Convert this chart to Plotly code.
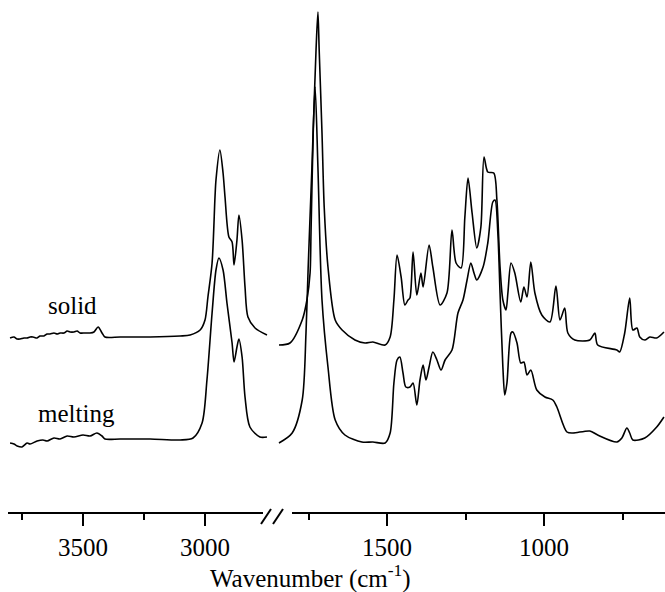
import plotly.graph_objects as go

W, H = 665, 592

# ---------------- data ----------------
# high-wavenumber segment (left part of the broken axis)
solid_hi_wn = [3799, 3783, 3770, 3758, 3742, 3729, 3717, 3705, 3688, 3676, 3660, 3647,
               3635, 3619, 3606, 3594, 3578, 3565, 3553, 3537, 3524, 3512, 3492, 3471,
               3455, 3438, 3422, 3410, 3348, 3225, 3102, 3061, 3020, 3000, 2988, 2971,
               2959, 2955, 2939, 2926, 2918, 2902, 2889, 2881, 2869, 2861, 2848, 2836,
               2824, 2795, 2746]
solid_hi_abs = [-0.01, 0.00, -0.02, -0.02, -0.01, -0.01, 0.00, 0.00, -0.01, 0.01, 0.01, 0.03,
                0.03, 0.04, 0.03, 0.04, 0.04, 0.06, 0.05, 0.05, 0.06, 0.04, 0.04, 0.04,
                0.05, 0.10, 0.04, 0.00, 0.00, 0.00, 0.01, 0.02, 0.07, 0.17, 0.40, 0.74,
                1.40, 1.57, 1.87, 1.64, 1.40, 1.00, 0.95, 0.72, 0.97, 1.22, 0.97, 0.50,
                0.20, 0.09, 0.02]

melt_hi_wn = [3799, 3783, 3770, 3750, 3729, 3717, 3688, 3664, 3647, 3619, 3594, 3565,
              3537, 3500, 3471, 3443, 3422, 3410, 3348, 3225, 3102, 3049, 3012, 2992,
              2971, 2955, 2943, 2926, 2910, 2889, 2881, 2869, 2861, 2848, 2836, 2816,
              2775, 2746]
melt_hi_abs = [-0.05, -0.06, -0.08, -0.09, -0.05, -0.06, -0.03, -0.02, -0.03, 0.00, -0.01, 0.02,
               0.01, 0.03, 0.02, 0.05, 0.02, -0.01, -0.01, -0.01, -0.02, 0.00, 0.15, 0.58,
               1.25, 1.68, 1.80, 1.68, 1.35, 0.95, 0.76, 0.91, 0.99, 0.81, 0.41, 0.11,
               0.01, 0.01]

# low-wavenumber segment (right part of the broken axis)
solid_lo_wn = [1844, 1809, 1770, 1755, 1745, 1742, 1735, 1726, 1720, 1716, 1707, 1700,
               1688, 1665, 1643, 1602, 1570, 1545, 1506, 1490, 1478, 1468, 1455, 1443,
               1433, 1427, 1417, 1405, 1392, 1385, 1366, 1354, 1331, 1309, 1293, 1280,
               1264, 1252, 1242, 1229, 1214, 1201, 1191, 1179, 1160, 1150, 1140, 1131,
               1121, 1115, 1105, 1093, 1074, 1064, 1054, 1042, 1029, 1007, 981, 962,
               949, 934, 924, 902, 854, 838, 829, 768, 759, 743, 727, 717, 704, 695,
               679, 663, 641, 618]
solid_lo_abs = [-0.08, -0.06, 0.17, 0.37, 0.64, 1.04, 2.04, 2.87, 3.25, 2.87, 2.04, 1.30,
                0.70, 0.17, 0.07, -0.03, -0.06, -0.05, -0.08, 0.00, 0.37, 0.82, 0.60, 0.32,
                0.37, 0.39, 0.85, 0.42, 0.64, 0.50, 0.92, 0.70, 0.32, 0.44, 1.07, 0.74,
                0.69, 1.20, 1.59, 1.24, 0.89, 1.10, 1.80, 1.65, 1.64, 1.37, 0.70, 0.37,
                0.27, 0.44, 0.74, 0.64, 0.35, 0.50, 0.40, 0.75, 0.44, 0.22, 0.15, 0.51,
                0.17, 0.29, 0.04, -0.03, -0.03, 0.04, -0.08, -0.13, -0.15, 0.04, 0.39, 0.07,
                0.09, 0.00, -0.03, 0.00, -0.01, 0.05]

melt_lo_wn = [1844, 1802, 1770, 1758, 1751, 1739, 1729, 1720, 1707, 1688, 1665, 1634,
              1580, 1545, 1506, 1490, 1478, 1468, 1459, 1449, 1440, 1427, 1417, 1405,
              1395, 1385, 1376, 1366, 1354, 1341, 1328, 1315, 1293, 1274, 1258, 1245,
              1233, 1223, 1214, 1194, 1179, 1163, 1156, 1147, 1140, 1131, 1125, 1118,
              1105, 1099, 1086, 1074, 1064, 1054, 1042, 1023, 997, 972, 959, 927,
              908, 854, 829, 768, 752, 736, 727, 717, 679, 641, 618]
melt_lo_abs = [-0.05, 0.05, 0.38, 1.05, 1.71, 2.71, 3.51, 2.71, 1.38, 0.71, 0.18, 0.03,
               -0.04, -0.04, -0.05, 0.05, 0.55, 0.78, 0.81, 0.65, 0.51, 0.51, 0.55, 0.33,
               0.58, 0.73, 0.58, 0.71, 0.86, 0.78, 0.68, 0.78, 0.88, 1.25, 1.38, 1.58,
               1.75, 1.65, 1.58, 1.71, 1.95, 2.36, 2.38, 2.05, 1.45, 0.71, 0.43, 0.55,
               1.05, 1.06, 0.95, 0.75, 0.76, 0.63, 0.68, 0.48, 0.41, 0.38, 0.31, 0.06,
               0.05, 0.07, 0.03, -0.04, 0.00, 0.10, 0.05, -0.02, 0.00, 0.11, 0.21]

SOLID_OFFSET = 1.01
series_labels = ["solid", "melting"]

left_major = [3500, 3000]
left_minor = [3750, 3250]
right_major = [1500, 1000]
right_minor = [1750, 1250, 750]

# ---------------- layout geometry ----------------
LEFT_SCALE = (83, 3500, 205, 3000)     # (px, wn, px, wn)
RIGHT_SCALE = (387, 1500, 544, 1000)


def wn_at(px, pa, wa, pb, wb):
    return wa + (px - pa) * (wb - wa) / (pb - pa)


AXIS_Y = 513
LEFT_AX = (8, 263)
RIGHT_AX = (292, 665)
FONT = "Liberation Serif"

line_style = dict(color="black", width=1.6, shape="spline", smoothing=0.8)

fig = go.Figure()
fig.add_trace(go.Scatter(x=solid_hi_wn, y=[v + SOLID_OFFSET for v in solid_hi_abs],
                         xaxis="x", yaxis="y", mode="lines", line=line_style,
                         name="solid", showlegend=False))
fig.add_trace(go.Scatter(x=melt_hi_wn, y=melt_hi_abs, xaxis="x", yaxis="y",
                         mode="lines", line=line_style, name="melting", showlegend=False))
fig.add_trace(go.Scatter(x=solid_lo_wn, y=[v + SOLID_OFFSET for v in solid_lo_abs],
                         xaxis="x2", yaxis="y", mode="lines", line=line_style,
                         name="solid", showlegend=False))
fig.add_trace(go.Scatter(x=melt_lo_wn, y=melt_lo_abs, xaxis="x2", yaxis="y",
                         mode="lines", line=line_style, name="melting", showlegend=False))
# carriers for the visible (broken) axis segments
fig.add_trace(go.Scatter(x=[left_major[0]], y=[-100], xaxis="x3", yaxis="y", mode="lines",
                         line=dict(width=0), showlegend=False, hoverinfo="skip"))
fig.add_trace(go.Scatter(x=[right_major[0]], y=[-100], xaxis="x4", yaxis="y", mode="lines",
                         line=dict(width=0), showlegend=False, hoverinfo="skip"))

vis_axis = dict(anchor="free", position=1 - AXIS_Y / H, showline=True, linecolor="black",
                linewidth=2, ticks="outside", ticklen=12, tickwidth=1.6, tickcolor="black",
                showgrid=False, zeroline=False, tickmode="array",
                tickfont=dict(family=FONT, size=25, color="black"))

fig.update_layout(
    width=W, height=H, margin=dict(l=0, r=0, t=0, b=0, pad=0),
    paper_bgcolor="white", plot_bgcolor="rgba(0,0,0,0)",
    xaxis=dict(domain=[0, 1], range=[wn_at(0, *LEFT_SCALE), wn_at(W, *LEFT_SCALE)],
               visible=False, anchor="y"),
    xaxis2=dict(domain=[0, 1], range=[wn_at(0, *RIGHT_SCALE), wn_at(W, *RIGHT_SCALE)],
                visible=False, anchor="y"),
    xaxis3=dict(domain=[LEFT_AX[0] / W, LEFT_AX[1] / W],
                range=[wn_at(LEFT_AX[0], *LEFT_SCALE), wn_at(LEFT_AX[1], *LEFT_SCALE)],
                tickvals=left_major, ticktext=[str(v) for v in left_major],
                minor=dict(tickmode="array", tickvals=left_minor, ticks="outside", ticklen=6,
                           tickwidth=1.6, tickcolor="black", showgrid=False),
                **vis_axis),
    xaxis4=dict(domain=[RIGHT_AX[0] / W, RIGHT_AX[1] / W],
                range=[wn_at(RIGHT_AX[0], *RIGHT_SCALE), wn_at(RIGHT_AX[1], *RIGHT_SCALE)],
                tickvals=right_major, ticktext=[str(v) for v in right_major],
                minor=dict(tickmode="array", tickvals=right_minor, ticks="outside", ticklen=6,
                           tickwidth=1.6, tickcolor="black", showgrid=False),
                **vis_axis),
    yaxis=dict(domain=[0, 1], range=[-1.54, 4.38], visible=False),
    showlegend=False,
)

# axis break marks "//"
for x0 in (261, 273):
    fig.add_shape(type="line", xref="paper", yref="paper",
                  x0=x0 / W, y0=1 - 524 / H, x1=(x0 + 10) / W, y1=1 - 509 / H,
                  line=dict(color="black", width=2))

# series labels
fig.add_annotation(text=series_labels[0], xref="paper", yref="paper", x=72 / W, y=1 - 305 / H,
                   showarrow=False, xanchor="center", yanchor="middle",
                   font=dict(family=FONT, size=25, color="black"))
fig.add_annotation(text=series_labels[1], xref="paper", yref="paper", x=76 / W, y=1 - 413 / H,
                   showarrow=False, xanchor="center", yanchor="middle",
                   font=dict(family=FONT, size=25, color="black"))
# axis title
fig.add_annotation(text="Wavenumber (cm<sup>-1</sup>)", xref="paper", yref="paper",
                   x=310 / W, y=1 - 576 / H, showarrow=False, xanchor="center",
                   yanchor="middle", font=dict(family=FONT, size=25, color="black"))

# the page body has a default margin; remove it so the figure sits at the window origin
fig.write_html("out.html", config={"displayModeBar": False},
               post_script="document.body.style.margin='0px';")
